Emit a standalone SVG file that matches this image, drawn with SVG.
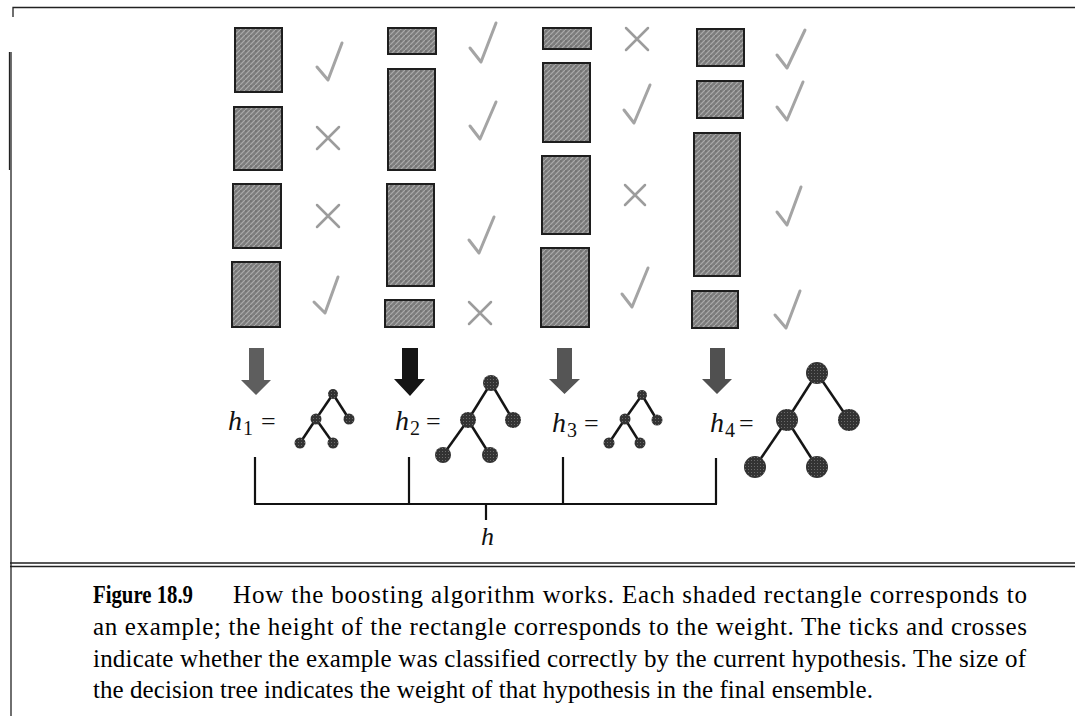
<svg xmlns="http://www.w3.org/2000/svg" width="1075" height="716" viewBox="0 0 1075 716">
<style>
.ex{fill:url(#tex);stroke:#1e1e1e;stroke-width:2}
.ok{fill:none;stroke:#a4a4a4;stroke-width:3;stroke-linecap:round;stroke-linejoin:round}
.no{fill:none;stroke:#9c9c9c;stroke-width:2.5;stroke-linecap:round}
.edge{stroke:#151515;stroke-width:2.5}
.nd{fill:url(#ntex)}
.lbl{font-family:"Liberation Serif","Times New Roman",serif;fill:#111}
.con{fill:none;stroke:#111;stroke-width:2.2}
.frame{fill:none;stroke:#222;stroke-width:1.3}
.cap{font-family:"Liberation Serif","Times New Roman",serif;font-size:25px;fill:#000}
</style>
<defs>
<pattern id="tex" width="5" height="5" patternUnits="userSpaceOnUse">
<rect width="5" height="5" fill="#7e7e7e"/>
<path d="M0 5 L5 0" stroke="#ababab" stroke-width="1.2"/>
<circle cx="1" cy="1" r="0.6" fill="#5a5a5a"/>
</pattern>
<pattern id="ntex" width="3" height="3" patternUnits="userSpaceOnUse">
<rect width="3" height="3" fill="#333"/>
<rect x="1" y="1" width="1" height="1" fill="#6a6a6a"/>
</pattern>
</defs>
<rect width="1075" height="716" fill="#fff"/>

<g id="frame">
<path class="frame" d="M13 17 V7.5 H1075"/>
<path class="frame" d="M11 52 V716"/>
<path class="frame" d="M9.5 52 V170"/>
<path class="frame" d="M10 563 H1075 M10 566.5 H1075"/>
</g>

<g id="round1">
<rect class="ex" x="235" y="28" width="47" height="64"/>
<rect class="ex" x="234" y="107" width="48" height="63"/>
<rect class="ex" x="233" y="184" width="48" height="64"/>
<rect class="ex" x="232" y="262" width="48" height="65"/>
<path class="ok" d="M317 67 L328 80 L342 43"/>
<path class="no" d="M317 127 L339 149 M339 127 L317 149"/>
<path class="no" d="M317 205 L339 227 M339 205 L317 227"/>
<path class="ok" d="M314 302 L325 313 L338 277"/>
</g>

<g id="round2">
<rect class="ex" x="388" y="28" width="48" height="26"/>
<rect class="ex" x="388" y="69" width="47" height="101"/>
<rect class="ex" x="387" y="184" width="47" height="102"/>
<rect class="ex" x="385" y="300" width="49" height="27"/>
<path class="ok" d="M470 48 L481 62 L496 23"/>
<path class="ok" d="M470 126 L480 139 L496 102"/>
<path class="ok" d="M469 240 L479 253 L494 217"/>
<path class="no" d="M469 302 L491 324 M491 302 L469 324"/>
</g>

<g id="round3">
<rect class="ex" x="543" y="28" width="48" height="21"/>
<rect class="ex" x="543" y="63" width="47" height="79"/>
<rect class="ex" x="542" y="156" width="48" height="78"/>
<rect class="ex" x="541" y="248" width="48" height="79"/>
<path class="no" d="M626 28 L648 50 M648 28 L626 50"/>
<path class="ok" d="M624 110 L634 123 L650 85"/>
<path class="no" d="M625 185 L645 205 M645 185 L625 205"/>
<path class="ok" d="M622 294 L632 307 L648 268"/>
</g>

<g id="round4">
<rect class="ex" x="697" y="29" width="47" height="37"/>
<rect class="ex" x="697" y="81" width="46" height="37"/>
<rect class="ex" x="694" y="133" width="46" height="143"/>
<rect class="ex" x="692" y="291" width="46" height="37"/>
<path class="ok" d="M777 55 L787 68 L805 30"/>
<path class="ok" d="M777 107 L787 120 L803 82"/>
<path class="ok" d="M777 212 L787 225 L801 187"/>
<path class="ok" d="M775 315 L786 328 L800 291"/>
</g>

<g id="arrows">
<polygon points="249,348 264,348 264,380 271,380 256,395 241,380 249,380" fill="#5e5e5e"/>
<polygon points="402,348 418,348 418,379 425,379 410,396 394,379 402,379" fill="#151515"/>
<polygon points="557,348 572,348 572,379 580,379 564.5,394 549,379 557,379" fill="#555"/>
<polygon points="710,348 725,348 725,379 732,379 717,394 702,379 710,379" fill="#505050"/>
</g>

<g id="h1">
<text class="lbl" x="228" y="430" font-size="28" font-style="italic">h</text>
<text class="lbl" x="243" y="435" font-size="20">1</text>
<text class="lbl" x="261" y="430" font-size="26">=</text>
<line class="edge" x1="333" y1="394" x2="316" y2="419"/>
<line class="edge" x1="333" y1="394" x2="349" y2="419"/>
<line class="edge" x1="316" y1="419" x2="300" y2="443"/>
<line class="edge" x1="316" y1="419" x2="333" y2="443"/>
<circle class="nd" cx="333" cy="394" r="5"/>
<circle class="nd" cx="316" cy="419" r="5.5"/>
<circle class="nd" cx="349" cy="419" r="5.5"/>
<circle class="nd" cx="300" cy="443" r="5.5"/>
<circle class="nd" cx="333" cy="443" r="5.5"/>
</g>

<g id="h2">
<text class="lbl" x="395" y="430" font-size="28" font-style="italic">h</text>
<text class="lbl" x="410" y="435" font-size="20">2</text>
<text class="lbl" x="426" y="430" font-size="26">=</text>
<line class="edge" x1="491" y1="383" x2="468" y2="420"/>
<line class="edge" x1="491" y1="383" x2="513" y2="420"/>
<line class="edge" x1="468" y1="420" x2="443" y2="455"/>
<line class="edge" x1="468" y1="420" x2="490" y2="455"/>
<circle class="nd" cx="491" cy="383" r="8"/>
<circle class="nd" cx="468" cy="420" r="8"/>
<circle class="nd" cx="513" cy="420" r="8"/>
<circle class="nd" cx="443" cy="455" r="8"/>
<circle class="nd" cx="490" cy="455" r="8"/>
</g>

<g id="h3">
<text class="lbl" x="552" y="432" font-size="28" font-style="italic">h</text>
<text class="lbl" x="567" y="437" font-size="20">3</text>
<text class="lbl" x="584" y="432" font-size="26">=</text>
<line class="edge" x1="642" y1="395" x2="625" y2="419"/>
<line class="edge" x1="642" y1="395" x2="657" y2="420"/>
<line class="edge" x1="625" y1="419" x2="609" y2="443"/>
<line class="edge" x1="625" y1="419" x2="640" y2="443"/>
<circle class="nd" cx="642" cy="395" r="5"/>
<circle class="nd" cx="625" cy="419" r="5.5"/>
<circle class="nd" cx="657" cy="420" r="5.5"/>
<circle class="nd" cx="609" cy="443" r="5.5"/>
<circle class="nd" cx="640" cy="443" r="5.5"/>
</g>

<g id="h4">
<text class="lbl" x="710" y="432" font-size="28" font-style="italic">h</text>
<text class="lbl" x="725" y="437" font-size="20">4</text>
<text class="lbl" x="739" y="432" font-size="26">=</text>
<line class="edge" x1="817" y1="373" x2="787" y2="420"/>
<line class="edge" x1="817" y1="373" x2="849" y2="420"/>
<line class="edge" x1="787" y1="420" x2="755" y2="467"/>
<line class="edge" x1="787" y1="420" x2="817" y2="467"/>
<circle class="nd" cx="817" cy="373" r="11"/>
<circle class="nd" cx="787" cy="420" r="11"/>
<circle class="nd" cx="849" cy="420" r="11"/>
<circle class="nd" cx="755" cy="467" r="11"/>
<circle class="nd" cx="817" cy="467" r="11"/>
</g>

<g id="connectors">
<path class="con" d="M255 457 V504 M409 457 V504 M563 457 V504 M716 458 V504 M254 504 H717 M486 504 V520"/>
</g>

<g id="h">
<text class="lbl" x="481" y="545" font-size="26" font-style="italic">h</text>
</g>

<g id="caption">
<text class="cap" x="93" y="603" font-weight="bold" textLength="100" lengthAdjust="spacingAndGlyphs">Figure 18.9</text>
<text class="cap" x="233" y="603" textLength="794" lengthAdjust="spacing">How the boosting algorithm works.  Each shaded rectangle corresponds to</text>
<text class="cap" x="93" y="635" textLength="934" lengthAdjust="spacing">an example; the height of the rectangle corresponds to the weight.  The ticks and crosses</text>
<text class="cap" x="93" y="667" textLength="933" lengthAdjust="spacing">indicate whether the example was classified correctly by the current hypothesis.  The size of</text>
<text class="cap" x="93" y="698" textLength="780" lengthAdjust="spacing">the decision tree indicates the weight of that hypothesis in the final ensemble.</text>
</g>
</svg>
